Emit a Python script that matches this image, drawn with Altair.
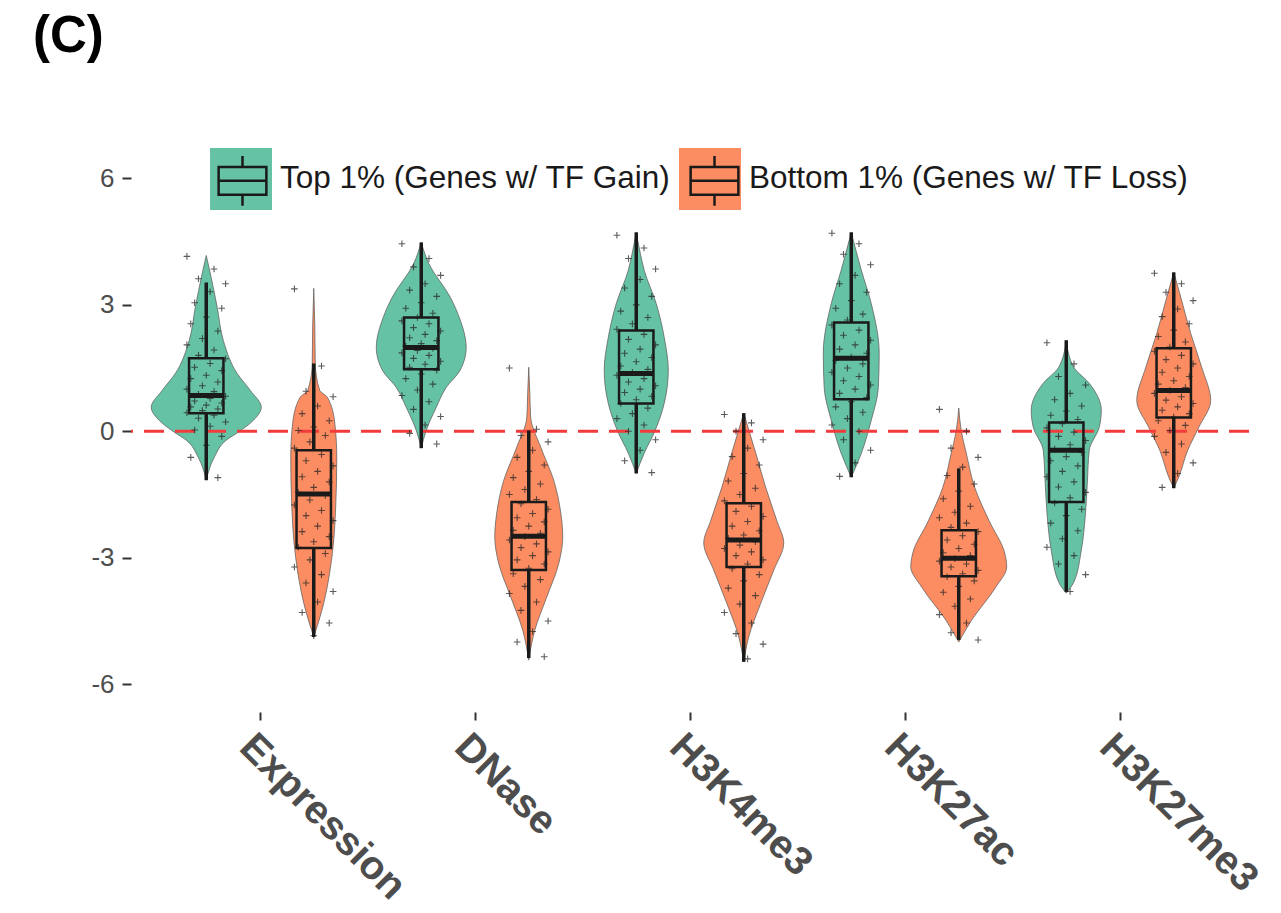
import json
import altair as alt
import pandas as pd

# ---------------- data ----------------
categories = ["Expression", "DNase", "H3K4me3", "H3K27ac", "H3K27me3"]
groups = ["Top 1% (Genes w/ TF Gain)", "Bottom 1% (Genes w/ TF Loss)"]
group_colors = ["#66C2A5", "#FC8D62"]
y_ticks = [-6, -3, 0, 3, 6]

# box statistics, order: (Expression top, Expression bottom, DNase top, ...)
box_q1 = [0.43, -2.77, 1.47, -3.29, 0.66, -3.22, 0.76, -3.44, -1.68, 0.33]
box_med = [0.85, -1.49, 1.99, -2.49, 1.37, -2.58, 1.73, -3.01, -0.45, 0.97]
box_q3 = [1.73, -0.45, 2.70, -1.68, 2.39, -1.71, 2.58, -2.35, 0.21, 1.97]
whisk_lo = [-1.16, -4.88, -0.40, -5.38, -1.00, -5.47, -1.09, -4.95, -3.81, -1.35]
whisk_hi = [3.53, 1.61, 4.48, 0.02, 4.72, 0.43, 4.72, -0.88, 2.16, 3.77]

# violin outlines: value levels and half-widths (in category units)
expr_top_v = [4.17, 3.74, 2.94, 2.16, 1.37, 0.97, 0.57, 0.26, -0.02, -0.21, -0.62, -1.16]
expr_top_w = [0, .019, .051, .079, .144, .205, .256, .219, .149, .093, .037, 0]
expr_bot_v = [3.39, 2.5, 1.61, 0.97, 0.81, 0.19, -0.62, -1.80, -2.58, -3.36, -4.17, -4.88]
expr_bot_w = [0, .005, .007, .028, .063, .098, .107, .102, .093, .074, .042, 0]
dnase_top_v = [4.48, 3.98, 3.18, 2.70, 1.99, 1.45, 1.04, 0.57, 0.02, -0.40]
dnase_top_w = [0, .035, .135, .177, .209, .181, .116, .070, .023, 0]
dnase_bot_v = [1.52, 0.9, 0.33, -0.38, -1.16, -1.94, -2.51, -3.13, -3.93, -4.72, -5.43]
dnase_bot_w = [0, .005, .009, .056, .116, .149, .158, .140, .084, .028, 0]
k4_top_v = [4.72, 4.22, 3.82, 3.03, 2.23, 1.45, 0.66, 0.02, -0.52, -1.0]
k4_top_w = [0, .019, .037, .093, .130, .149, .130, .088, .037, 0]
k4_bot_v = [0.43, -0.52, -1.33, -2.11, -2.65, -3.29, -4.08, -4.88, -5.47]
k4_bot_w = [0, .056, .102, .153, .186, .140, .079, .023, 0]
k27ac_top_v = [4.72, 3.82, 3.03, 1.85, 1.04, 0.26, -0.52, -1.09]
k27ac_top_w = [0, .047, .093, .130, .126, .093, .047, 0]
k27ac_bot_v = [0.55, 0.0, -0.52, -1.33, -2.11, -2.89, -3.22, -3.70, -4.48, -5.0]
k27ac_bot_w = [0, .012, .035, .074, .140, .214, .223, .172, .060, 0]
k27me3_top_v = [2.16, 1.52, 1.14, 0.50, 0.09, -0.45, -1.23, -2.04, -2.82, -3.60, -3.84]
k27me3_top_w = [0, .035, .107, .163, .153, .107, .098, .088, .070, .033, 0]
k27me3_bot_v = [3.77, 3.10, 2.32, 1.52, 0.73, 0.09, -0.45, -1.09, -1.35]
k27me3_bot_w = [0, .037, .079, .130, .172, .116, .065, .023, 0]

# individual gene points (approximate readings)
expr_top_pts = [4.15, 3.85, 3.62, 3.5, 3.31, 3.05, 2.92, 2.71, 2.55, 2.38, 2.2, 2.05, 1.93, 1.8,
                1.72, 1.61, 1.52, 1.44, 1.33, 1.25, 1.17, 1.08, 1.0, 0.94, 0.88, 0.83, 0.78, 0.72,
                0.67, 0.62, 0.58, 0.53, 0.49, 0.44, 0.38, 0.31, 0.22, 0.12, 0.03, -0.12, -0.33,
                -0.62, -1.1]
expr_bot_pts = [3.38, 1.55, 0.95, 0.82, 0.6, 0.42, 0.25, 0.1, 0.02, -0.1, -0.25, -0.4, -0.55, -0.7,
                -0.82, -0.95, -1.08, -1.2, -1.33, -1.45, -1.52, -1.63, -1.75, -1.88, -2.0, -2.12,
                -2.25, -2.38, -2.5, -2.62, -2.75, -2.9, -3.05, -3.22, -3.4, -3.6, -3.8, -4.05,
                -4.3, -4.55, -4.85]
dnase_top_pts = [4.45, 4.1, 3.9, 3.7, 3.5, 3.35, 3.2, 3.05, 2.92, 2.8, 2.7, 2.62, 2.55, 2.46, 2.38,
                 2.3, 2.22, 2.15, 2.08, 2.02, 1.97, 1.92, 1.86, 1.8, 1.73, 1.66, 1.59, 1.52, 1.45,
                 1.36, 1.25, 1.12, 0.98, 0.85, 0.7, 0.52, 0.35, 0.15, -0.05, -0.3]
dnase_bot_pts = [1.5, 0.05, -0.1, -0.25, -0.45, -0.62, -0.8, -0.95, -1.1, -1.25, -1.38, -1.5, -1.62,
                 -1.72, -1.85, -1.95, -2.05, -2.15, -2.25, -2.35, -2.42, -2.5, -2.58, -2.67, -2.76,
                 -2.86, -2.95, -3.05, -3.15, -3.25, -3.38, -3.52, -3.68, -3.85, -4.05, -4.25,
                 -4.5, -4.75, -5.0, -5.35]
k4_top_pts = [4.65, 4.35, 4.1, 3.85, 3.6, 3.4, 3.2, 3.0, 2.85, 2.7, 2.55, 2.42, 2.3, 2.18, 2.05,
              1.95, 1.85, 1.75, 1.65, 1.55, 1.47, 1.4, 1.33, 1.25, 1.17, 1.08, 1.0, 0.92, 0.83,
              0.75, 0.66, 0.55, 0.42, 0.3, 0.15, 0.0, -0.2, -0.45, -0.7, -0.98]
k4_bot_pts = [0.4, 0.2, 0.0, -0.2, -0.4, -0.6, -0.8, -1.0, -1.18, -1.35, -1.5, -1.65, -1.78, -1.9,
              -2.02, -2.14, -2.25, -2.36, -2.46, -2.54, -2.62, -2.7, -2.78, -2.86, -2.95, -3.05,
              -3.15, -3.26, -3.4, -3.55, -3.72, -3.9, -4.1, -4.3, -4.55, -4.8, -5.05, -5.4]
k27ac_top_pts = [4.7, 4.45, 4.2, 3.95, 3.7, 3.5, 3.3, 3.1, 2.92, 2.78, 2.64, 2.52, 2.4, 2.28, 2.16,
                 2.05, 1.95, 1.85, 1.76, 1.68, 1.6, 1.5, 1.4, 1.3, 1.2, 1.1, 1.0, 0.9, 0.8, 0.7,
                 0.58, 0.45, 0.3, 0.15, 0.0, -0.2, -0.45, -0.75, -1.07]
k27ac_bot_pts = [0.52, 0.0, -0.4, -0.62, -0.85, -1.05, -1.25, -1.42, -1.6, -1.78, -1.92, -2.05,
                 -2.18, -2.28, -2.38, -2.48, -2.58, -2.68, -2.78, -2.88, -2.95, -3.02, -3.08,
                 -3.15, -3.22, -3.3, -3.38, -3.45, -3.55, -3.68, -3.82, -3.98, -4.15, -4.35,
                 -4.55, -4.78, -4.95]
k27me3_top_pts = [2.1, 1.6, 1.3, 1.1, 0.9, 0.75, 0.6, 0.48, 0.38, 0.28, 0.18, 0.08, -0.02, -0.12,
                  -0.22, -0.32, -0.42, -0.5, -0.6, -0.7, -0.82, -0.95, -1.08, -1.2, -1.32, -1.45,
                  -1.58, -1.7, -1.85, -2.0, -2.18, -2.36, -2.55, -2.75, -2.95, -3.15, -3.4, -3.8]
k27me3_bot_pts = [3.75, 3.5, 3.3, 3.1, 2.9, 2.72, 2.55, 2.4, 2.25, 2.12, 2.0, 1.9, 1.8, 1.7, 1.6,
                  1.5, 1.4, 1.3, 1.2, 1.12, 1.04, 0.97, 0.9, 0.82, 0.74, 0.66, 0.58, 0.5, 0.42,
                  0.34, 0.25, 0.14, 0.02, -0.12, -0.3, -0.5, -0.75, -1.0, -1.33]

violin_v = [expr_top_v, expr_bot_v, dnase_top_v, dnase_bot_v, k4_top_v, k4_bot_v,
            k27ac_top_v, k27ac_bot_v, k27me3_top_v, k27me3_bot_v]
violin_w = [expr_top_w, expr_bot_w, dnase_top_w, dnase_bot_w, k4_top_w, k4_bot_w,
            k27ac_top_w, k27ac_bot_w, k27me3_top_w, k27me3_bot_w]
violin_pts = [expr_top_pts, expr_bot_pts, dnase_top_pts, dnase_bot_pts, k4_top_pts, k4_bot_pts,
              k27ac_top_pts, k27ac_bot_pts, k27me3_top_pts, k27me3_bot_pts]

# ---------------- tables ----------------
DODGE = 0.25
BOX_HALF = 0.08
JIT = 0.09

vrows, brows, prows = [], [], []
for i in range(10):
    ci, gi = i // 2, i % 2
    pos = ci + 1 + (-DODGE if gi == 0 else DODGE)
    vid = f"{categories[ci]}_{gi}"
    for v, w in zip(violin_v[i], violin_w[i]):
        vrows.append({"vid": vid, "group": groups[gi], "v": v, "xl": pos - w, "xr": pos + w})
    brows.append({"group": groups[gi], "gorder": gi, "pos": pos,
                  "bl": pos - BOX_HALF, "br": pos + BOX_HALF,
                  "q1": box_q1[i], "med": box_med[i], "q3": box_q3[i],
                  "lo": whisk_lo[i], "hi": whisk_hi[i]})
    for k, val in enumerate(violin_pts[i]):
        prows.append({"value": val, "xj": pos + (((k * 7) % 11) - 5) / 5 * JIT})

vdf = pd.DataFrame(vrows).sort_values(["vid", "v"]).reset_index(drop=True)
bdf = pd.DataFrame(brows)
pdf = pd.DataFrame(prows)
zdf = pd.DataFrame({"zero": [0]})

# ---------------- chart ----------------
FONT = "Liberation Sans"
xscale = alt.Scale(domain=[0.4, 5.6], nice=False, zero=False)
yscale = alt.Scale(domain=[-6.66, 7.86], nice=False, zero=False)

xaxis = alt.Axis(values=[1, 2, 3, 4, 5], labelExpr=json.dumps(categories) + "[datum.value - 1]",
                 labelAngle=45, labelAlign="left", labelBaseline="top", labelFontSize=40,
                 labelFontWeight="bold", labelColor="#4d4d4d", labelFont=FONT, labelLimit=500,
                 labelOverlap=False, labelPadding=6, tickSize=8, tickWidth=2, tickColor="#333333",
                 domain=False, grid=False, title=None)
yaxis = alt.Axis(values=y_ticks, labelExpr="datum.value + ''", labelFontSize=26,
                 labelColor="#4d4d4d", labelFont=FONT, labelPadding=8, tickSize=9, tickWidth=2,
                 tickColor="#333333", domain=False, grid=False, title=None)

LEG_X, LEG_Y = 79, 48
SYM = 3844
LABEL_W = 391
COL_PAD = 8
BOX_GLYPH = "M-0.77,-0.45H0.77V0.45H-0.77Z M-0.77,0H0.77 M0,-0.45V-0.8 M0,0.45V0.8"

legend_fill = alt.Legend(orient="none", legendX=LEG_X, legendY=LEG_Y, direction="horizontal",
                         title=None, symbolType="square", symbolSize=SYM, symbolStrokeWidth=0,
                         symbolOpacity=1, labelFontSize=31.5, labelFont=FONT,
                         labelColor="#1a1a1a", labelOffset=8, columnPadding=COL_PAD, padding=0,
                         labelLimit=800)
legend_glyph = alt.Legend(orient="none", legendX=LEG_X, legendY=LEG_Y, direction="horizontal",
                          title=None, symbolType=BOX_GLYPH, symbolSize=SYM, symbolStrokeWidth=2.5,
                          symbolFillColor="transparent", labelExpr="''", labelOffset=8,
                          columnPadding=COL_PAD + LABEL_W, padding=0)

violins = alt.Chart(vdf).mark_area(
    orient="horizontal", interpolate="monotone", stroke="#5e5e5e", strokeWidth=1,
    strokeOpacity=0.75, opacity=1
).encode(
    y=alt.Y("v:Q", scale=yscale, axis=yaxis),
    x=alt.X("xl:Q", scale=xscale, axis=xaxis),
    x2="xr:Q",
    fill=alt.Fill("group:N", scale=alt.Scale(domain=groups, range=group_colors),
                  legend=legend_fill),
    detail="vid:N",
)

zero_line = alt.Chart(zdf).mark_rule(color="#f23b3b", strokeWidth=3, strokeDash=[20, 11]).encode(
    y=alt.Y("zero:Q", scale=yscale, axis=yaxis)
)

points = alt.Chart(pdf).mark_point(
    shape="M-1,0L1,0M0,-1L0,1", filled=False, size=44, strokeWidth=1.1, color="#262626",
    opacity=0.75
).encode(
    x=alt.X("xj:Q", scale=xscale, axis=xaxis),
    y=alt.Y("value:Q", scale=yscale, axis=yaxis),
)

whisk_low = alt.Chart(bdf).mark_rule(color="#1a1a1a", strokeWidth=3.5).encode(
    x=alt.X("pos:Q", scale=xscale, axis=xaxis),
    y=alt.Y("lo:Q", scale=yscale, axis=yaxis), y2="q1:Q",
)
whisk_high = alt.Chart(bdf).mark_rule(color="#1a1a1a", strokeWidth=3.5).encode(
    x=alt.X("pos:Q", scale=xscale, axis=xaxis),
    y=alt.Y("q3:Q", scale=yscale, axis=yaxis), y2="hi:Q",
)

boxes = alt.Chart(bdf).mark_rect(fill="transparent", strokeWidth=2.5).encode(
    x=alt.X("bl:Q", scale=xscale, axis=xaxis), x2="br:Q",
    y=alt.Y("q1:Q", scale=yscale, axis=yaxis), y2="q3:Q",
    stroke=alt.Stroke("group:N", sort=alt.EncodingSortField(field="gorder", op="min"),
                      scale=alt.Scale(range=["#1a1a1a", "#1a1a1a"]), legend=legend_glyph),
)

medians = alt.Chart(bdf).mark_rule(color="#1a1a1a", strokeWidth=5).encode(
    x=alt.X("bl:Q", scale=xscale, axis=xaxis), x2="br:Q",
    y=alt.Y("med:Q", scale=yscale, axis=yaxis),
)

chart = alt.layer(
    violins, zero_line, points, whisk_low, whisk_high, boxes, medians
).properties(
    width=1118,
    height=612,
    autosize=alt.AutoSizeParams(type="none"),
    padding={"left": 123, "top": 92, "right": 24, "bottom": 195},
    title=alt.TitleParams(text="(C)", anchor="start", frame="group", fontSize=51,
                          fontWeight="bold", font=FONT, color="#000000", dx=-98, dy=8,
                          offset=5, baseline="alphabetic"),
).configure(font=FONT, background="white").configure_view(stroke="transparent")

chart.save("out.html", embed_options={"renderer": "svg", "actions": False})
